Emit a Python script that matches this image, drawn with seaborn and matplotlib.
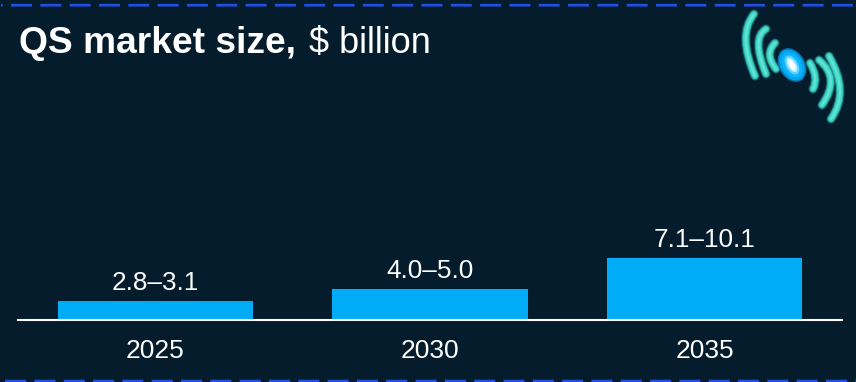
import matplotlib
matplotlib.use("Agg")
import matplotlib.pyplot as plt
import seaborn as sns
import pandas as pd
from matplotlib.patches import Ellipse, FancyBboxPatch, PathPatch
from matplotlib.path import Path
from matplotlib.transforms import Affine2D

years = ["2025", "2030", "2035"]
range_labels = ["2.8–3.1", "4.0–5.0", "7.1–10.1"]
upper_values = [3.1, 5.0, 10.1]

BG = "#041C2C"
BAR = "#00ACF5"
BORDER = "#1F50E6"
TEAL = "#3ED8C8"
W, H = 856, 382

sns.set_theme(style="dark")
plt.rcParams["font.family"] = ["Liberation Sans", "DejaVu Sans"]

fig = plt.figure(figsize=(W / 100, H / 100), dpi=100, facecolor=BG)
ax = fig.add_axes([18 / W, 1 - 319.5 / H, 824 / W, 262 / H])
ax.set_facecolor("none")

df = pd.DataFrame({"year": years, "upper": upper_values})
sns.barplot(data=df, x="year", y="upper", color=BAR, saturation=1, width=0.71,
            edgecolor="none", linewidth=0, ax=ax)
ax.set_xlim(-0.5, 2.5)
ax.set_ylim(0, 262 / 6.1)
ax.set_xlabel("")
ax.set_ylabel("")
ax.set_yticks([])
ax.grid(False)
for side in ["top", "left", "right"]:
    ax.spines[side].set_visible(False)
ax.spines["bottom"].set_color("white")
ax.spines["bottom"].set_linewidth(1.5)
ax.spines["bottom"].set_zorder(5)
ax.tick_params(axis="x", length=0, pad=14, labelsize=19, labelcolor="white")

for i, (val, lab) in enumerate(zip(upper_values, range_labels)):
    ax.annotate(lab, (i, val), xytext=(0, 4), textcoords="offset points",
                ha="center", va="bottom", color="white", fontsize=18.8)

# Heading: bold lead-in followed by the regular unit text
head = fig.text(19 / W, 1 - 53 / H, "QS market size,", color="white",
                fontsize=26.7, fontweight="bold", va="baseline", ha="left")
fig.canvas.draw()
bb = head.get_window_extent()
fig.text((bb.x1 + 13) / W, 1 - 53 / H, r"\$ billion", color="white",
         fontsize=26, va="baseline", ha="left")

# Everything below is laid out in pixel coordinates with the origin at top left
canvas = Affine2D().scale(1, -1).translate(0, H)

frame = FancyBboxPatch((-9, 5.2), W + 20.9, 375.8, boxstyle="round,pad=0,rounding_size=10",
                       fill=False, edgecolor=BORDER, linewidth=1.9,
                       linestyle=(7.32, (7.96, 3.15)), transform=canvas)
fig.add_artist(frame)

# Signal icon: curved strokes either side of a glowing ellipse
arcs = [
    ((754, 14), (737, 35), (755, 76)),
    ((766, 29), (751, 38), (766, 74)),
    ((775, 43), (764, 54), (776, 69)),
    ((810, 63), (819, 78), (813, 89)),
    ((819, 60), (841, 78), (822, 105)),
    ((829, 56), (850, 92), (831, 119)),
]
strokes = [(9.5, "#1F7F7C", 0.45), (7.5, "#2FB8AC", 0.8), (5.5, TEAL, 1.0), (2.2, "#62E2D6", 1.0)]
for start, bend, end in arcs:
    path = Path([start, bend, end], [Path.MOVETO, Path.CURVE3, Path.CURVE3])
    for width_px, colour, alpha in strokes:
        fig.add_artist(PathPatch(path, fill=False, edgecolor=colour, alpha=alpha,
                                 linewidth=width_px * 0.72, capstyle="round",
                                 transform=canvas))

glow = [((26, 36), "#0A6FA8"), ((23, 33), "#00A5F2"), ((18, 27), "#0DB4FA"),
        ((12, 21), "#5CD2FC"), ((8, 16), "#BFEFFF"), ((5, 11), "white")]
for size, colour in glow:
    fig.add_artist(Ellipse((792, 65), size[0], size[1], angle=-30, facecolor=colour,
                           edgecolor="none", transform=canvas))

fig.savefig("out.png", dpi=100, facecolor=BG)
